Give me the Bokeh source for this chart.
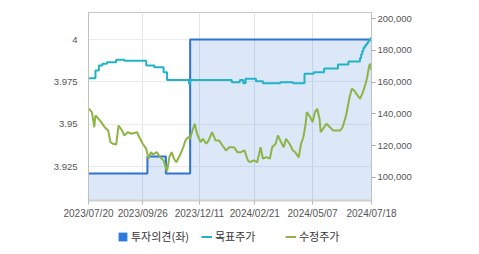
from bokeh.plotting import figure
from bokeh.layouts import column
from bokeh.models import (Range1d, LinearAxis, FixedTicker, NumeralTickFormatter,
                          Legend, LegendItem)
from bokeh.embed import file_html
from bokeh.resources import INLINE

# ---- data (trading-day index from 2023/07/20) ----
TICK_DAYS = [0, 47, 96, 144, 194, 245]
TICK_LABELS = ["2023/07/20", "2023/09/26", "2023/12/11", "2024/02/21", "2024/05/07", "2024/07/18"]

OPINION_DAYS = [0, 51, 67, 88, 245]
OPINION_VALUES = [3.921, 3.931, 3.921, 4.0, 4.0]

TARGET_DAYS = [0, 6, 9, 12, 16, 24, 31, 50, 57, 65, 68, 87, 88, 124, 131, 134, 136, 145,
               151, 166, 177, 187, 195, 204, 216, 225, 235, 236, 237, 238, 239, 240, 241,
               242, 243, 244, 245]
TARGET_VALUES = [162400, 167300, 170400, 171500, 172500, 174000, 173400, 170400, 169400,
                 166200, 161400, 158900, 161400, 159900, 161400, 159300, 162100, 160600,
                 159300, 159900, 159300, 165200, 166200, 168500, 171100, 172900, 175000,
                 177500, 179500, 181500, 182500, 183500, 184500, 185500, 186500, 187500,
                 188200]

PRICE_DAYS = [0, 3, 5, 6, 8, 11, 14, 17, 19, 21, 24, 26, 29, 31, 34, 37, 42, 44, 47, 50,
              52, 54, 56, 59, 62, 65, 68, 70, 72, 74, 76, 79, 82, 84, 86, 88, 90, 92, 94,
              97, 99, 102, 104, 107, 110, 113, 116, 119, 122, 126, 129, 132, 135, 138, 140,
              143, 146, 149, 151, 154, 157, 159, 162, 164, 166, 169, 171, 174, 177, 179,
              182, 184, 186, 188, 189, 192, 194, 196, 198, 200, 201, 203, 206, 209, 212,
              215, 218, 220, 223, 226, 228, 230, 232, 235, 237, 239, 241, 243, 244, 245]
PRICE_VALUES = [143400, 141100, 131600, 139000, 137500, 134800, 131600, 129600, 122200,
                121200, 120700, 132700, 129600, 126400, 128500, 127500, 128500, 125300,
                121200, 118000, 111800, 115900, 114500, 115900, 112800, 110700, 103800,
                112800, 115900, 111800, 109600, 113800, 119000, 123300, 125300, 124500,
                129600, 133800, 127500, 122200, 124300, 121200, 123300, 128500, 123300,
                123300, 120100, 117000, 119000, 119000, 115900, 115900, 117000, 110700,
                109600, 110700, 109600, 119000, 111800, 112800, 111800, 119000, 121200,
                126400, 123300, 119000, 124300, 121200, 117000, 115900, 112600, 121200,
                125300, 133800, 141100, 137900, 134800, 141100, 143200, 136900, 128500,
                130600, 133800, 131600, 129600, 129600, 129600, 131600, 139000, 150500,
                155800, 154700, 152600, 149500, 152600, 156800, 162100, 170400, 171500,
                167300]

OP_TICKS = [3.925, 3.95, 3.975, 4.0]
OP_TICK_LABELS = ["3.925", "3.95", "3.975", "4"]
PRICE_TICKS = [100000, 120000, 140000, 160000, 180000, 200000]

LEGEND_LABELS = ["투자의견(좌)", "목표주가", "수정주가"]

OP_MIN, OP_MAX = 3.905, 4.016
PRICE_MIN, PRICE_MAX = 85500, 203800

BLUE = "#2f72d3"
SQUARE = "#2b7bde"
TEAL = "#22b4c6"
GREEN = "#8cb545"

p = figure(width=479, height=222, output_backend="svg", toolbar_location=None,
           x_range=Range1d(0, 245), y_range=Range1d(OP_MIN, OP_MAX),
           min_border_left=88, min_border_right=108, min_border_top=12,
           min_border_bottom=22, background_fill_color="white",
           border_fill_color="white")
p.extra_y_ranges = {"price": Range1d(PRICE_MIN, PRICE_MAX)}
p.outline_line_color = "#c8c8c8"

# grids
p.xgrid.grid_line_color = "#e2e6ec"
p.ygrid.grid_line_color = "#ebebeb"

# opinion area + step
p.varea_step(x=OPINION_DAYS, y1=OP_MIN, y2=OPINION_VALUES, step_mode="after",
             fill_color=BLUE, fill_alpha=0.17)
p.step(x=OPINION_DAYS, y=OPINION_VALUES, mode="after", line_color=BLUE, line_width=2)
p.step(x=TARGET_DAYS, y=TARGET_VALUES, mode="after", line_color=TEAL, line_width=2,
       y_range_name="price")
p.line(x=PRICE_DAYS, y=PRICE_VALUES, line_color=GREEN, line_width=2,
       y_range_name="price")

# axes
font = "Liberation Sans"
xa = p.xaxis[0]
xa.ticker = FixedTicker(ticks=TICK_DAYS)
xa.major_label_overrides = dict(zip(TICK_DAYS, TICK_LABELS))
xa.axis_line_color = "#d0d0d0"
xa.axis_line_width = 2
xa.major_tick_line_color = "#bbbbbb"
xa.major_tick_out = 4
xa.major_tick_in = 0
xa.minor_tick_line_color = None
xa.major_label_text_font = font
xa.major_label_text_font_size = "10px"
xa.major_label_text_color = "#555555"
xa.major_label_standoff = 3

ya = p.yaxis[0]
ya.ticker = FixedTicker(ticks=OP_TICKS)
ya.major_label_overrides = dict(zip(OP_TICKS, OP_TICK_LABELS))
ya.axis_line_color = "#c0c0c0"
ya.major_tick_line_color = None
ya.minor_tick_line_color = None
ya.major_label_text_font = font
ya.major_label_text_font_size = "9.5px"
ya.major_label_text_color = "#555555"
ya.major_label_standoff = 5

ra = LinearAxis(y_range_name="price", ticker=FixedTicker(ticks=PRICE_TICKS),
                formatter=NumeralTickFormatter(format="0,0"))
ra.axis_line_color = "#c0c0c0"
ra.major_tick_line_color = "#aaaaaa"
ra.major_tick_out = 4
ra.major_tick_in = 0
ra.minor_tick_line_color = None
ra.major_label_text_font = font
ra.major_label_text_font_size = "9.5px"
ra.major_label_text_color = "#555555"
ra.major_label_standoff = 2
p.add_layout(ra, "right")

# legend strip (separate figure under the chart; its frame is aligned with the chart's)
# the proxy renderers hold the same series but lie outside this strip's ranges
lg = figure(width=479, height=32, output_backend="svg", toolbar_location=None,
            x_range=Range1d(0, 245), y_range=Range1d(-2, -1), x_axis_type=None,
            y_axis_type=None, min_border=0, outline_line_color=None,
            background_fill_color="white", border_fill_color="white")
lg.grid.visible = False
k_sq = lg.quad(left=OPINION_DAYS[:-1], right=OPINION_DAYS[1:], top=OPINION_VALUES[:-1],
               bottom=OP_MIN, fill_color=SQUARE, line_color=None)
k_tp = lg.line(x=TARGET_DAYS, y=TARGET_VALUES, line_color=TEAL, line_width=2)
k_pr = lg.line(x=PRICE_DAYS, y=PRICE_VALUES, line_color=GREEN, line_width=2)
legend = Legend(items=[LegendItem(label=lab, renderers=[r])
                       for lab, r in zip(LEGEND_LABELS, [k_sq, k_tp, k_pr])],
                location=(29, 10), orientation="horizontal",
                label_text_font="Noto Sans CJK KR", label_text_font_size="11px",
                label_text_color="#333333", glyph_width=11, glyph_height=11,
                label_standoff=3, padding=0, margin=0, spacing=4,
                border_line_color=None, background_fill_alpha=0,
                label_height=11, label_width=66)
lg.add_layout(legend, "center")

open("out.html", "w").write(file_html(column(p, lg, spacing=0), INLINE))
